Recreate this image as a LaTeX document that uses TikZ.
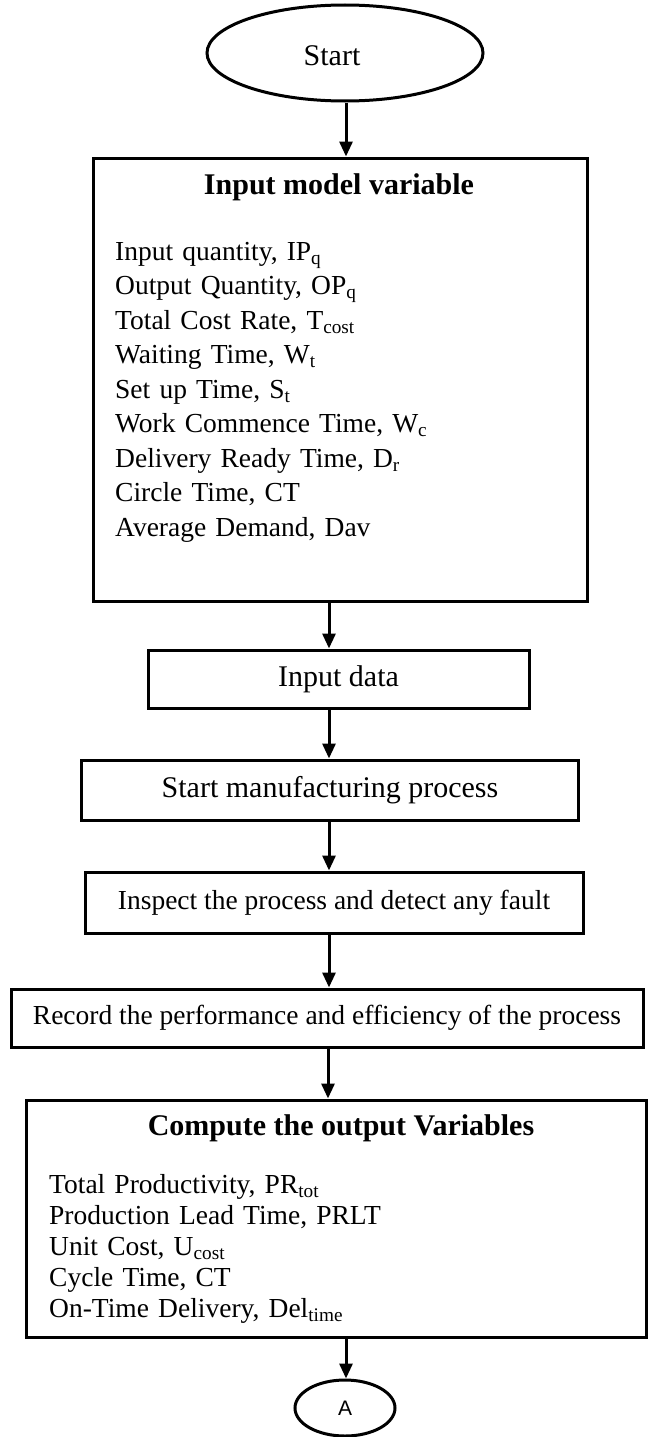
\documentclass[tikz,border=0pt]{standalone}
\usepackage{fontspec}
\setmainfont{Liberation Serif}
\newfontfamily\labelsans{Liberation Sans}
\usetikzlibrary{shapes.geometric,arrows.meta}

\tikzset{
  every node/.style={inner sep=0pt},
  big/.style={font=\fontsize{30}{36}\selectfont},
  small/.style={font=\fontsize{27.5}{34.5}\selectfont},
  head/.style={font=\fontsize{30}{36}\selectfont\bfseries},
  procbox/.style={draw, line width=3pt, rectangle, align=center},
  termbox/.style={draw, line width=3pt, ellipse},
  flow/.style={line width=3pt, -{Triangle[length=15pt,width=13pt]}},
}
\newcommand{\sbs}[1]{\textsubscript{#1}}

\begin{document}
\begin{tikzpicture}[x=1pt,y=-1pt]
  \useasboundingbox (0,0) rectangle (648,1437);

  % terminal at the top
  \node[termbox, minimum width=276, minimum height=96] (start) at (345,53) {};
  \node[big] (startT) at (332,56) {Start};

  % model input box with its list of variables
  \node[procbox, minimum width=494, minimum height=443] (vars) at (340,379.5) {};
  \node[head] (varsT) at (339,187) {Input model variable};
  \node[small, anchor=north west, align=left, text width=460] (varsL) at (115,242) {%
    Input quantity, IP\sbs{q}\\
    Output Quantity, OP\sbs{q}\\
    Total Cost Rate, T\sbs{cost}\\
    Waiting Time, W\sbs{t}\\
    Set up Time, S\sbs{t}\\
    Work Commence Time, W\sbs{c}\\
    Delivery Ready Time, D\sbs{r}\\
    Circle Time, CT\\
    Average Demand, Dav};

  % process steps
  \node[procbox, big, minimum width=381, minimum height=58] (data) at (338.5,679) {Input data};
  \node[procbox, big, minimum width=497, minimum height=60] (mfg) at (330,790) {Start manufacturing process};
  \node[procbox, small, minimum width=498, minimum height=61] (insp) at (334,902.5) {Inspect the process and detect any fault};
  \node[procbox, small, minimum width=632, minimum height=58] (rec) at (327,1018) {Record the performance and efficiency of the process};

  % output box
  \node[procbox, minimum width=620, minimum height=237] (out) at (336,1218.5) {};
  \node[head] (outT) at (341,1128) {Compute the output Variables};
  \node[anchor=north west, align=left, text width=560, font=\fontsize{27.5}{31}\selectfont] (outL) at (49,1174) {%
    Total Productivity, PR\sbs{tot}\\
    Production Lead Time, PRLT\\
    Unit Cost, U\sbs{cost}\\
    Cycle Time, CT\\
    On-Time Delivery, Del\sbs{time}};

  % connector to the next page
  \node[termbox, minimum width=100, minimum height=56, font=\labelsans\fontsize{21}{25}\selectfont] (cont) at (345,1408) {A};

  % flow arrows
  \draw[flow] (start.south -| 346,0) -- (vars.north -| 346,0);
  \draw[flow] (vars.south -| 329,0) -- (data.north -| 329,0);
  \draw[flow] (data.south -| 329,0) -- (mfg.north -| 329,0);
  \draw[flow] (mfg.south -| 329,0) -- (insp.north -| 329,0);
  \draw[flow] (insp.south -| 329,0) -- (rec.north -| 329,0);
  \draw[flow] (rec.south -| 328,0) -- (out.north -| 328,0);
  \draw[flow] (out.south -| 346,0) -- (cont.north -| 346,0);
\end{tikzpicture}
\end{document}
